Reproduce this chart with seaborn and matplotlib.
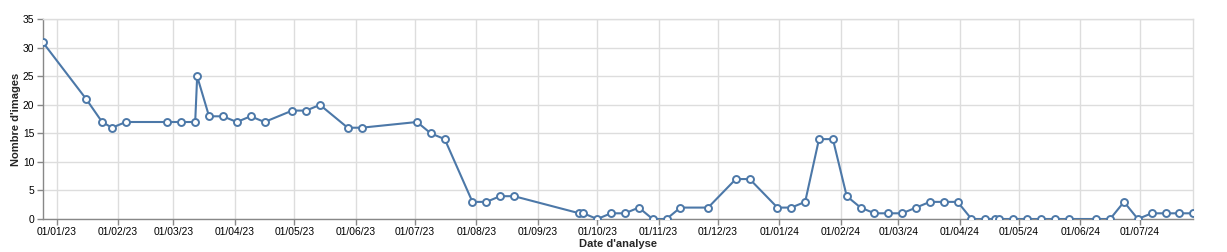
import matplotlib
matplotlib.use("Agg")
import matplotlib.pyplot as plt
import matplotlib.dates as mdates
import seaborn as sns
import pandas as pd

dates = [
    "2022-12-25", "2023-01-16", "2023-01-24", "2023-01-29", "2023-02-05",
    "2023-02-26", "2023-03-05", "2023-03-12", "2023-03-13", "2023-03-19",
    "2023-03-26", "2023-04-02", "2023-04-09", "2023-04-16", "2023-04-30",
    "2023-05-07", "2023-05-14", "2023-05-28", "2023-06-04", "2023-07-02",
    "2023-07-09", "2023-07-16", "2023-07-30", "2023-08-06", "2023-08-13",
    "2023-08-20", "2023-09-22", "2023-09-24", "2023-10-01", "2023-10-08",
    "2023-10-15", "2023-10-22", "2023-10-29", "2023-11-05", "2023-11-12",
    "2023-11-26", "2023-12-10", "2023-12-17", "2023-12-31", "2024-01-07",
    "2024-01-14", "2024-01-21", "2024-01-28", "2024-02-04", "2024-02-11",
    "2024-02-18", "2024-02-25", "2024-03-03", "2024-03-10", "2024-03-17",
    "2024-03-24", "2024-03-31", "2024-04-07", "2024-04-14", "2024-04-19",
    "2024-04-21", "2024-04-28", "2024-05-05", "2024-05-12", "2024-05-19",
    "2024-05-26", "2024-06-09", "2024-06-16", "2024-06-23", "2024-06-30",
    "2024-07-07", "2024-07-14", "2024-07-21", "2024-07-28",
]
images = [
    31, 21, 17, 16, 17,
    17, 17, 17, 25, 18,
    18, 17, 18, 17, 19,
    19, 20, 16, 16, 17,
    15, 14, 3, 3, 4,
    4, 1, 1, 0, 1,
    1, 2, 0, 0, 2,
    2, 7, 7, 2, 2,
    3, 14, 14, 4, 2,
    1, 1, 1, 2, 3,
    3, 3, 0, 0, 0,
    0, 0, 0, 0, 0,
    0, 0, 0, 3, 0,
    1, 1, 1, 1,
]
y_ticks = [0, 5, 10, 15, 20, 25, 30, 35]
x_label = "Date d'analyse"
y_label = "Nombre d'images"

df = pd.DataFrame({"date": pd.to_datetime(dates), "images": images})

sns.set_style("white")
plt.rcParams["font.family"] = ["Liberation Sans", "DejaVu Sans"]

fig = plt.figure(figsize=(12.27, 2.52), dpi=100)
ax = fig.add_axes([42.7 / 1227, 1 - 219 / 252, (1193.3 - 42.7) / 1227, (219 - 19.3) / 252])

color = "#4c78a8"
sns.lineplot(data=df, x="date", y="images", ax=ax, color=color, linewidth=1.5,
             marker="o", markersize=5, markerfacecolor="white",
             markeredgecolor=color, markeredgewidth=1.4, zorder=3)

ax.set_xlim(df["date"].min(), df["date"].max())
ax.set_ylim(0, 35)
ax.set_yticks(y_ticks)
ax.xaxis.set_major_locator(mdates.MonthLocator())
ax.xaxis.set_major_formatter(mdates.DateFormatter("%d/%m/%y"))

ax.grid(True, color="#dddddd", linewidth=1)
ax.set_axisbelow(True)
for s in ["top", "right"]:
    ax.spines[s].set_color("#dddddd")
    ax.spines[s].set_linewidth(1)
for s in ["left", "bottom"]:
    ax.spines[s].set_color("#888888")
    ax.spines[s].set_linewidth(1)

ax.tick_params(axis="both", which="major", length=4, width=1, color="#888888",
               labelsize=7.4, labelcolor="#000000", direction="out", pad=2,
               left=True, bottom=True)

ax.set_xlabel(x_label, fontsize=8, fontweight="bold", labelpad=1)
ax.set_ylabel(y_label, fontsize=8, fontweight="bold", labelpad=1.5)

fig.savefig("out.png", dpi=100)
